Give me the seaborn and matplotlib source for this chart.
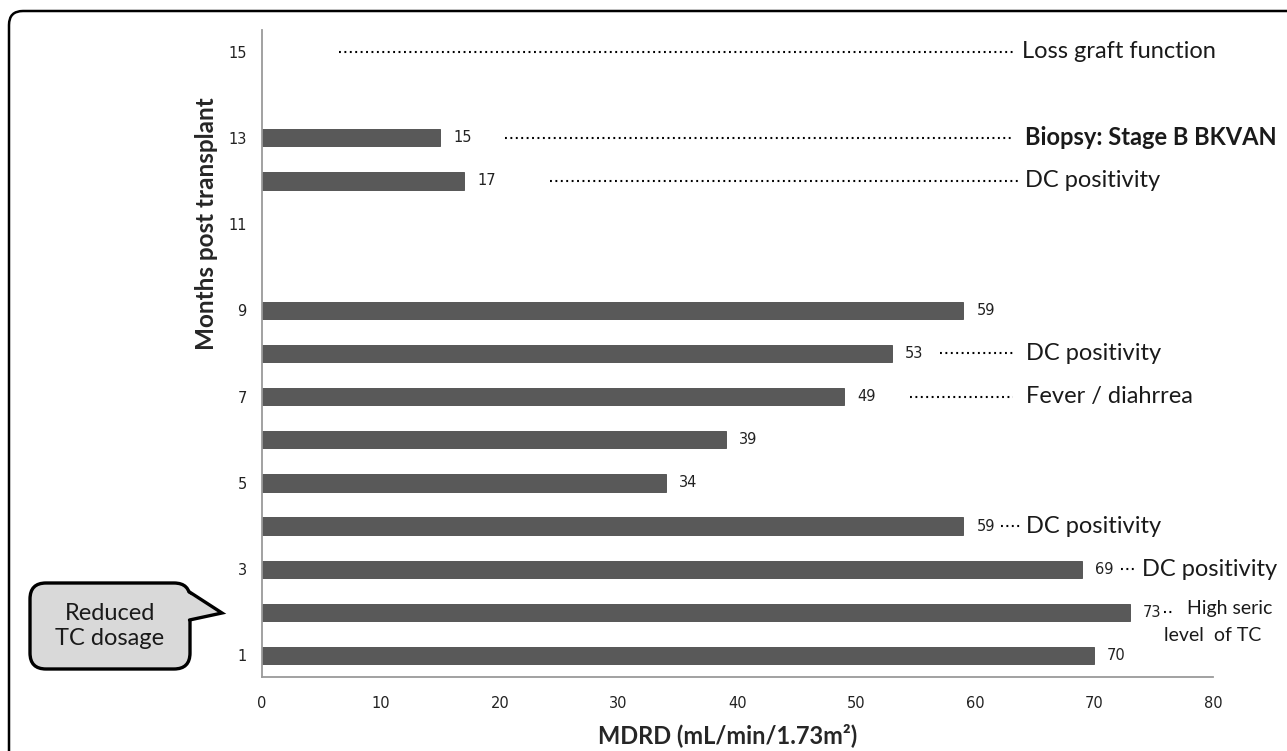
import matplotlib
matplotlib.use("Agg")
import matplotlib.pyplot as plt
import matplotlib.patches as mpatches
import matplotlib.transforms as mtransforms
import seaborn as sns
import pandas as pd

#%% Dados
meses = [1, 2, 3, 4, 5, 6, 7, 8, 9, 12, 13]
mdrd = [70, 73, 69, 59, 34, 39, 49, 53, 59, 17, 15]

# anotacoes: mes, inicio/fim da linha pontilhada e posicao do texto (escala MDRD)
ann_mes = [15, 13, 12, 8, 7, 4, 3, 2]
ann_x0 = [6.5, 20.4, 24.2, 57.0, 54.5, 62.2, 72.3, 75.9]
ann_x1 = [63.3, 63.3, 63.6, 63.2, 63.2, 63.8, 73.5, 76.6]
ann_tx = [63.9, 64.2, 64.2, 64.3, 64.3, 64.3, 74.0, 77.8]
ann_txt = ['Loss graft function', 'Biopsy: Stage B BKVAN', 'DC positivity',
           'DC positivity', 'Fever / diahrrea', 'DC positivity', 'DC positivity',
           'High seric']
ann_bold = [False, True, False, False, False, False, False, False]

df = pd.DataFrame({'mes': meses, 'mdrd': mdrd})

#%% Grafico
sns.set_style('white')
plt.rcParams['font.family'] = ['DejaVu Sans']
fonte_txt = ['Lato', 'DejaVu Sans']

fig = plt.figure(figsize=(12.87, 7.51), dpi=100)
ax = fig.add_axes([262/1287, 1-677/751, 951/1287, 647/751])

sns.barplot(data=df, x='mdrd', y='mes', orient='h', native_scale=True,
            color='#595959', saturation=1, width=0.4, edgecolor='#4a4a4a',
            linewidth=0.6, ax=ax)

ax.bar_label(ax.containers[0], labels=[str(v) for v in mdrd], padding=9.4,
             fontsize=10.5, color='#222222')

ax.set_xlim(0, 80)
ax.set_ylim(0.5, 15.5)
ax.set_xticks(range(0, 81, 10))
ax.set_yticks(range(1, 16, 2))
ax.set_yticks([m + 0.5 for m in range(0, 16)], minor=True)
ax.tick_params(axis='y', which='major', length=0, labelsize=10.5, pad=11, colors='#222222')
ax.tick_params(axis='y', which='minor', length=6, width=1.2, color='#9a9a9a', direction='out')
ax.tick_params(axis='x', length=6, width=1.2, color='#9a9a9a', labelsize=10.5,
               labelcolor='#222222', pad=8, direction='out')

for s in ['top', 'right']:
    ax.spines[s].set_visible(False)
for s in ['left', 'bottom']:
    ax.spines[s].set_color('#9a9a9a')
    ax.spines[s].set_linewidth(1.3)

ax.set_xlabel('MDRD (mL/min/1.73m²)', fontsize=17, fontweight='bold', family=fonte_txt)
ax.set_ylabel('Months post transplant', fontsize=17.5, fontweight='bold', family=fonte_txt)
ax.xaxis.set_label_coords(0.49, -0.072)
ax.yaxis.set_label_coords(-0.046, 0.70)

# linhas pontilhadas e textos
for m, x0, x1, tx, t, b in zip(ann_mes, ann_x0, ann_x1, ann_tx, ann_txt, ann_bold):
    ax.plot([x0, x1], [m, m], linestyle=(0, (0.9, 1.7)), color='black', lw=1.5,
            clip_on=False, solid_capstyle='butt')
    tam = 14 if m == 2 else 17
    ax.text(tx, m + (0.08 if m == 2 else 0.0), t, fontsize=tam,
            fontweight='bold' if b else 'normal', family=fonte_txt,
            va='center', ha='left', clip_on=False, color='#1a1a1a')
ax.text(75.9, 1.46, 'level  of TC', fontsize=14, family=fonte_txt,
        va='center', ha='left', clip_on=False, color='#1a1a1a')

# balao "Reduced TC dosage" (coordenadas em pixels da figura)
ident = mtransforms.IdentityTransform()
H = 751
caixa = mpatches.FancyBboxPatch((30, H - 669), 160, 86,
                                boxstyle='round,pad=0,rounding_size=16',
                                fc='#d9d9d9', ec='black', lw=2.4,
                                transform=ident, zorder=5)
fig.add_artist(caixa)
ponta = mpatches.Polygon([(186, H - 592), (222, H - 613), (186, H - 620)],
                         closed=True, fc='#d9d9d9', ec='none',
                         transform=ident, zorder=6)
fig.add_artist(ponta)
fig.add_artist(plt.Line2D([189.5, 222, 189.5], [H - 592, H - 613, H - 620],
                          color='black', lw=2.4, transform=ident, zorder=7,
                          solid_joinstyle='miter'))
fig.text(110 / 1287, 1 - 626 / 751, 'Reduced\nTC dosage', fontsize=17,
         family=fonte_txt, ha='center', va='center', linespacing=1.25,
         color='#1a1a1a', zorder=8)

# moldura da figura
moldura = mpatches.FancyBboxPatch((9, -60), 1400, H - 11 + 60,
                                  boxstyle='round,pad=0,rounding_size=14',
                                  fc='none', ec='black', lw=1.8,
                                  transform=ident, zorder=10)
fig.add_artist(moldura)

plt.savefig('out.png', dpi=100)
